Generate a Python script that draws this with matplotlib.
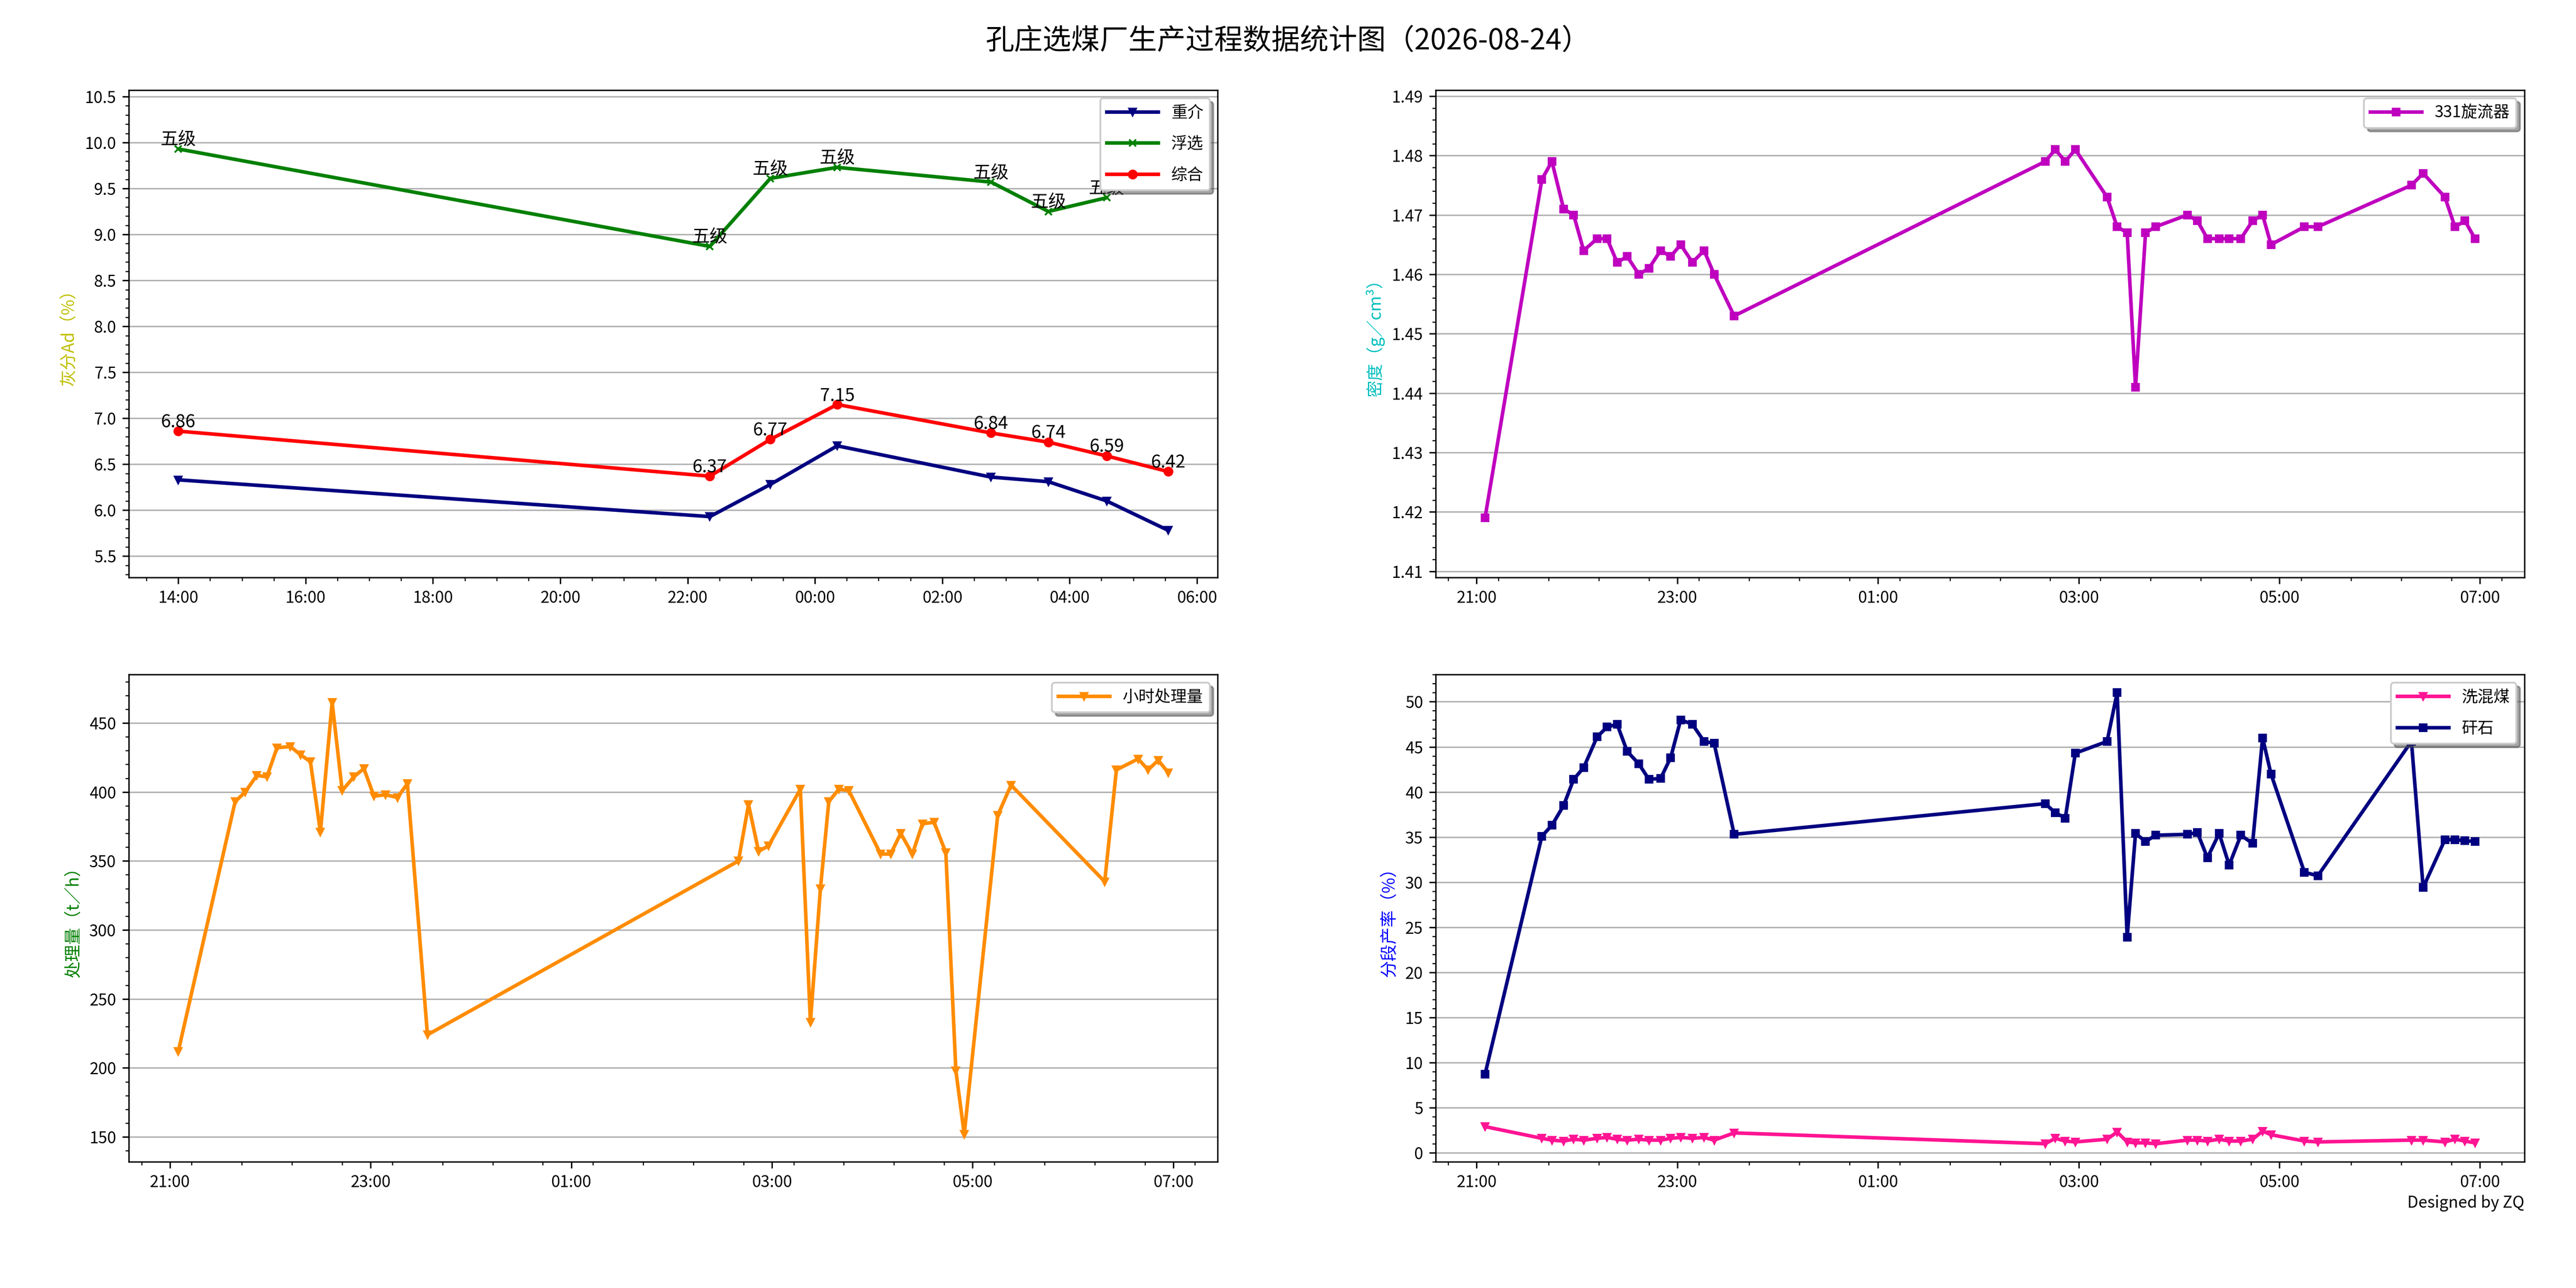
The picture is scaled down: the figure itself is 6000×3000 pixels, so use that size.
import datetime as dt

import matplotlib
matplotlib.use("Agg")
import matplotlib.dates as mdates
import matplotlib.pyplot as plt
from matplotlib.ticker import AutoMinorLocator, FormatStrFormatter, MultipleLocator

plt.rcParams["font.family"] = ["Noto Sans CJK SC", "DejaVu Sans"]
plt.rcParams["axes.unicode_minus"] = False

# ---- data ----
ash_times = ["14:00", "22:21", "23:18", "00:21", "02:46", "03:40", "04:35", "05:33"]
ash_heavy = [6.33, 5.93, 6.28, 6.70, 6.36, 6.31, 6.10, 5.78]
ash_flot = [9.93, 8.87, 9.61, 9.73, 9.57, 9.25, 9.40]
ash_total = [6.86, 6.37, 6.77, 7.15, 6.84, 6.74, 6.59, 6.42]
flot_grade = ["五级"] * 7

proc_times = [
    "21:05", "21:39", "21:45", "21:52", "21:58", "22:04", "22:12", "22:18",
    "22:24", "22:30", "22:37", "22:43", "22:50", "22:56", "23:02", "23:09",
    "23:16", "23:22", "23:34", "02:40", "02:46", "02:52", "02:58", "03:17",
    "03:23", "03:29", "03:34", "03:40", "03:46", "04:05", "04:11", "04:17",
    "04:24", "04:30", "04:37", "04:44", "04:50", "04:55", "05:15", "05:23",
    "06:19", "06:26", "06:39", "06:45", "06:51", "06:57",
]
density = [
    1.419, 1.476, 1.479, 1.471, 1.470, 1.464, 1.466, 1.466,
    1.462, 1.463, 1.460, 1.461, 1.464, 1.463, 1.465, 1.462,
    1.464, 1.460, 1.453, 1.479, 1.481, 1.479, 1.481, 1.473,
    1.468, 1.467, 1.441, 1.467, 1.468, 1.470, 1.469, 1.466,
    1.466, 1.466, 1.466, 1.469, 1.470, 1.465, 1.468, 1.468,
    1.475, 1.477, 1.473, 1.468, 1.469, 1.466,
]
throughput = [
    212, 393, 400, 412, 411, 432, 433, 427,
    422, 371, 465, 401, 411, 417, 397, 398,
    396, 406, 224, 350, 391, 357, 361, 402,
    233, 330, 393, 402, 401, 355, 355, 370,
    355, 377, 378, 356, 198, 152, 383, 405,
    335, 416, 424, 416, 423, 414,
]
mixed_yield = [
    2.9, 1.6, 1.4, 1.3, 1.5, 1.4, 1.6, 1.7,
    1.5, 1.4, 1.5, 1.4, 1.4, 1.6, 1.7, 1.6,
    1.7, 1.4, 2.2, 1.0, 1.6, 1.3, 1.2, 1.5,
    2.3, 1.2, 1.1, 1.1, 1.0, 1.4, 1.4, 1.3,
    1.5, 1.3, 1.3, 1.5, 2.4, 2.0, 1.3, 1.2,
    1.4, 1.4, 1.2, 1.5, 1.3, 1.1,
]
gangue_yield = [
    8.7, 35.1, 36.3, 38.5, 41.4, 42.7, 46.1, 47.2,
    47.5, 44.5, 43.1, 41.4, 41.5, 43.8, 48.0, 47.5,
    45.6, 45.4, 35.3, 38.7, 37.7, 37.1, 44.3, 45.6,
    51.0, 23.9, 35.4, 34.5, 35.2, 35.3, 35.5, 32.7,
    35.4, 31.9, 35.2, 34.3, 46.0, 42.0, 31.1, 30.7,
    45.6, 29.4, 34.7, 34.7, 34.6, 34.5,
]


def to_dt(hhmm):
    h, m = map(int, hhmm.split(":"))
    day = 23 if h >= 12 else 24
    return dt.datetime(2026, 8, day, h, m)


ash_x = [to_dt(t) for t in ash_times]
proc_x = [to_dt(t) for t in proc_times]

TICK_FS = 9
LW = 2

fig, axes = plt.subplots(2, 2, figsize=(20, 10), dpi=300)
fig.subplots_adjust(left=0.05, right=0.98, bottom=0.098, top=0.93,
                    wspace=0.2, hspace=0.2)
ax1, ax2 = axes[0]
ax3, ax4 = axes[1]

# ---- ash content ----
ax1.plot(ash_x, ash_heavy, color="#000080", marker="v", ms=4, lw=LW, label="重介")
ax1.plot(ash_x[:len(ash_flot)], ash_flot, color="green", marker="x", ms=4,
         lw=LW, label="浮选")
ax1.plot(ash_x, ash_total, color="red", marker="o", ms=4.5, lw=LW, label="综合")
for x, y, g in zip(ash_x, ash_flot, flot_grade):
    ax1.annotate(g, (x, y), ha="center", va="bottom", fontsize=10)
for x, y in zip(ash_x, ash_total):
    ax1.annotate(f"{y:.2f}", (x, y), ha="center", va="bottom", fontsize=10)
ax1.set_ylim(5.27, 10.57)
ax1.yaxis.set_major_locator(MultipleLocator(0.5))
ax1.yaxis.set_major_formatter(FormatStrFormatter("%.1f"))
ax1.set_ylabel("灰分Ad（%）", color="#bfbf00", fontsize=9.5)
ax1.xaxis.set_major_locator(mdates.HourLocator(byhour=range(0, 24, 2)))
ax1.xaxis.set_minor_locator(mdates.MinuteLocator(byminute=[0, 30]))

# ---- density ----
ax2.plot(proc_x, density, color="#bf00bf", marker="s", ms=4, lw=LW, label="331旋流器")
ax2.set_ylim(min(density) - 0.01, max(density) + 0.01)
ax2.set_ylabel("密度（g／cm³）", color="#00bfbf", fontsize=9.5)

# ---- throughput ----
ax3.plot(proc_x, throughput, color="#ff8c00", marker="v", ms=4, lw=LW, label="小时处理量")
ax3.set_ylim(min(throughput) - 20, max(throughput) + 20)
ax3.yaxis.set_major_locator(MultipleLocator(50))
ax3.set_ylabel("处理量（t／h）", color="green", fontsize=9.5)

# ---- yields ----
ax4.plot(proc_x, mixed_yield, color="#ff1493", marker="v", ms=4, lw=LW, label="洗混煤")
ax4.plot(proc_x, gangue_yield, color="#000080", marker="s", ms=4, lw=LW, label="矸石")
ax4.set_ylim(min(mixed_yield) - 2, max(gangue_yield) + 2)
ax4.yaxis.set_major_locator(MultipleLocator(5))
ax4.set_ylabel("分段产率（%）", color="blue", fontsize=9.5)

for ax in (ax2, ax3, ax4):
    ax.xaxis.set_major_locator(mdates.HourLocator(byhour=range(1, 24, 2)))
    ax.xaxis.set_minor_locator(mdates.MinuteLocator(byminute=[13, 43]))

for ax in (ax1, ax2, ax3, ax4):
    ax.xaxis.set_major_formatter(mdates.DateFormatter("%H:%M"))
    ax.yaxis.set_minor_locator(AutoMinorLocator())
    ax.tick_params(labelsize=TICK_FS)
    ax.grid(axis="y")
    ax.legend(loc="upper right", fontsize=9, shadow=True, fancybox=True,
              handlelength=3.2, labelspacing=0.9)

fig.suptitle("孔庄选煤厂生产过程数据统计图（2026-08-24）", fontsize=16, y=0.968,
             va="center")
fig.text(0.98, 0.066, "Designed by ZQ", ha="right", va="center", fontsize=9)

fig.savefig("out.png", dpi=300)
